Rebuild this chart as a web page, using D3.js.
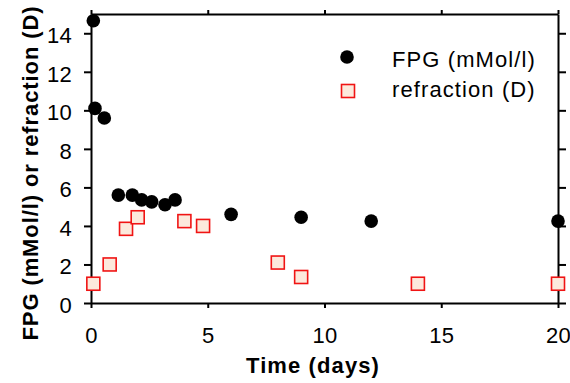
<!DOCTYPE html>
<html>
<head>
<meta charset="utf-8">
<script src="https://cdn.jsdelivr.net/npm/d3@7"></script>
<style>
  body { margin: 0; background: #fff; }
  svg { display: block; }
</style>
</head>
<body>
<div id="chart"></div>
<script>
// FPG values (black dots)
var fpgDays = [0.1, 0.17, 0.57, 1.17, 1.77, 2.17, 2.6, 3.17, 3.6, 6, 9, 12, 20]
var fpgValues = [14.65, 10.1, 9.6, 5.6, 5.6, 5.35, 5.25, 5.1, 5.35, 4.6, 4.45, 4.25, 4.25]

// refraction values (red squares)
var refDays = [0.1, 0.8, 1.5, 2, 4, 4.8, 8, 9, 14, 20]
var refValues = [1, 2, 3.85, 4.45, 4.25, 4, 2.1, 1.35, 1, 1]

var xTicks = [0, 5, 10, 15, 20]
var yTicks = [0, 2, 4, 6, 8, 10, 12, 14]
var legendLabels = ['FPG (mMol/l)', 'refraction (D)']

var width = 570
var height = 383
var margin = { top: 14, left: 91, right: 12, bottom: 80 }
var font = '"Liberation Sans", Arial, Helvetica, sans-serif'

var svg = d3.select('#chart')
  .append('svg')
  .attr('width', width)
  .attr('height', height)

var xPositionScale = d3.scaleLinear()
  .domain([0, 20])
  .range([margin.left, width - margin.right])

var yPositionScale = d3.scaleLinear()
  .domain([0, 15])
  .range([height - margin.bottom, margin.top])

function styleAxis(g) {
  g.attr('font-size', 22)
    .attr('font-family', font)
    .attr('letter-spacing', '0.3px')
  g.selectAll('path, line')
    .attr('stroke', '#000')
    .attr('stroke-width', 2)
  g.selectAll('text').attr('fill', '#000')
}

// left axis
svg.append('g')
  .attr('transform', `translate(${margin.left},0)`)
  .call(d3.axisLeft(yPositionScale).tickValues(yTicks).tickSize(7).tickSizeOuter(0).tickPadding(12))
  .call(styleAxis)
  .selectAll('text')
  .attr('dy', 9.5)

// right axis (mirror ticks, no labels)
svg.append('g')
  .attr('transform', `translate(${xPositionScale(20)},0)`)
  .call(d3.axisRight(yPositionScale).tickValues(yTicks).tickSize(8).tickSizeOuter(0).tickFormat(''))
  .call(styleAxis)

// bottom axis
svg.append('g')
  .attr('transform', `translate(0,${yPositionScale(0)})`)
  .call(d3.axisBottom(xPositionScale).tickValues(xTicks).tickSize(5).tickSizeOuter(0))
  .call(styleAxis)
  .selectAll('text')
  .attr('y', 40)
  .attr('dy', 0)

// top axis (mirror ticks, no labels)
svg.append('g')
  .attr('transform', `translate(0,${yPositionScale(15)})`)
  .call(d3.axisTop(xPositionScale).tickValues(xTicks).tickSize(4).tickSizeOuter(0).tickFormat(''))
  .call(styleAxis)

// refraction squares
var sq = 13
svg.selectAll('.ref')
  .data(refDays)
  .enter()
  .append('rect')
  .attr('class', 'ref')
  .attr('x', d => xPositionScale(d) - sq / 2)
  .attr('y', (d, i) => yPositionScale(refValues[i]) - sq / 2)
  .attr('width', sq)
  .attr('height', sq)
  .attr('fill', '#fce9dc')
  .attr('stroke', '#f01414')
  .attr('stroke-width', 1.6)

// FPG dots
svg.selectAll('.fpg')
  .data(fpgDays)
  .enter()
  .append('circle')
  .attr('class', 'fpg')
  .attr('cx', d => xPositionScale(d))
  .attr('cy', (d, i) => yPositionScale(fpgValues[i]))
  .attr('r', 6.8)
  .attr('fill', '#000')

// legend
var legend = svg.append('g')
legend.append('circle')
  .attr('cx', 347)
  .attr('cy', 57)
  .attr('r', 6.8)
  .attr('fill', '#000')
legend.append('rect')
  .attr('x', 348 - sq / 2)
  .attr('y', 91 - sq / 2)
  .attr('width', sq)
  .attr('height', sq)
  .attr('fill', '#fce9dc')
  .attr('stroke', '#f01414')
  .attr('stroke-width', 1.6)
legend.selectAll('text')
  .data(legendLabels)
  .enter()
  .append('text')
  .text(d => d)
  .attr('x', 392)
  .attr('y', (d, i) => 67 + i * 30)
  .attr('font-size', 22)
  .attr('font-family', font)
  .attr('letter-spacing', '1.1px')

// axis titles
svg.append('text')
  .text('Time (days)')
  .attr('x', 313)
  .attr('y', 373)
  .attr('text-anchor', 'middle')
  .attr('font-size', 22)
  .attr('font-weight', 'bold')
  .attr('font-family', font)
  .attr('letter-spacing', '1.1px')

svg.append('text')
  .text('FPG (mMol/l) or refraction (D)')
  .attr('transform', 'translate(38,173) rotate(-90)')
  .attr('text-anchor', 'middle')
  .attr('font-size', 22)
  .attr('font-weight', 'bold')
  .attr('font-family', font)
  .attr('letter-spacing', '0.9px')
</script>
</body>
</html>
